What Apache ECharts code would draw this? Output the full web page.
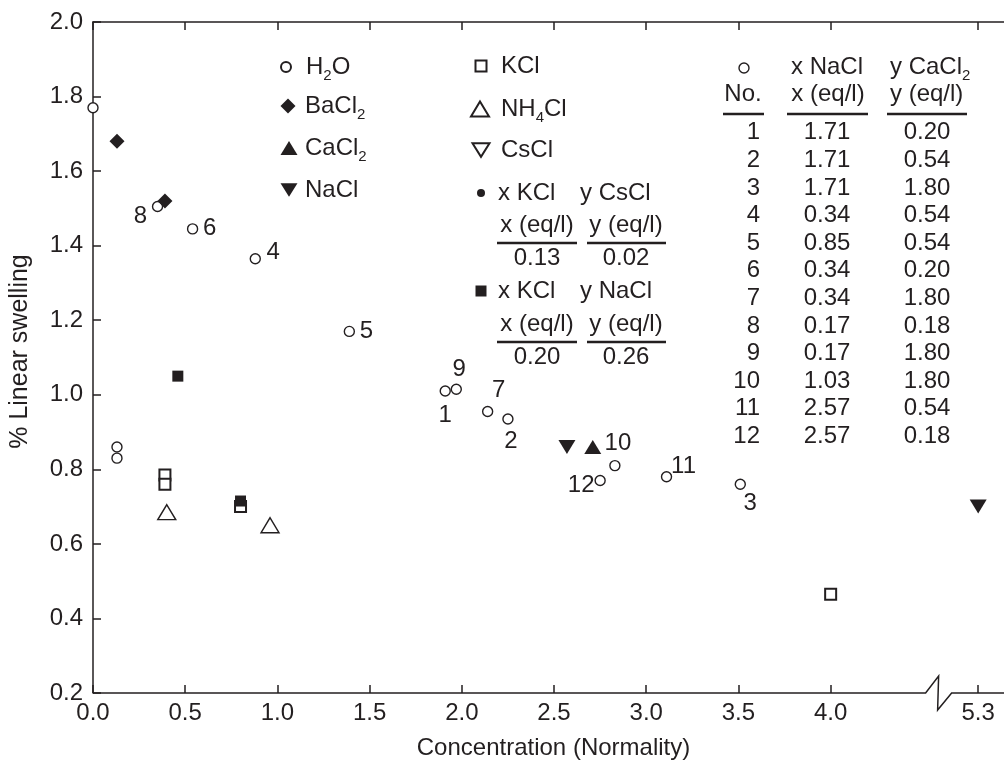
<!DOCTYPE html>
<html><head><meta charset="utf-8">
<script src="https://cdn.jsdelivr.net/npm/echarts@6/dist/echarts.min.js"></script>
<style>html,body{margin:0;padding:0;background:#fff}#c{width:1004px;height:766px}</style>
</head><body><div id="c"></div>
<script>
// ---------- data ----------
const xTickValues = [0, 0.5, 1.0, 1.5, 2.0, 2.5, 3.0, 3.5, 4.0, 5.3];
const xTickLabels = ['0.0','0.5','1.0','1.5','2.0','2.5','3.0','3.5','4.0','5.3'];

// pure water points (open circles, unlabeled)
const waterX = [0.00, 0.13, 0.13];
const waterY = [1.77, 0.86, 0.83];

// NaCl + CaCl2 mixtures (open circles, numbered)
const mixNo      = ['1','2','3','4','5','6','7','8','9','10','11','12'];
const mixNaCl    = ['1.71','1.71','1.71','0.34','0.85','0.34','0.34','0.17','0.17','1.03','2.57','2.57'];
const mixCaCl2   = ['0.20','0.54','1.80','0.54','0.54','0.20','1.80','0.18','1.80','1.80','0.54','0.18'];
const mixTotal   = [1.91, 2.25, 3.51, 0.88, 1.39, 0.54, 2.14, 0.35, 1.97, 2.83, 3.11, 2.75];
const mixSwelling= [1.01, 0.935, 0.76, 1.365, 1.17, 1.445, 0.955, 1.505, 1.015, 0.81, 0.78, 0.77];

const bacl2X = [0.13, 0.39];        const bacl2Y = [1.68, 1.52];
const cacl2X = [2.71];              const cacl2Y = [0.86];
const naclX  = [2.57, 5.3];         const naclY  = [0.86, 0.70];
const kclX   = [0.39, 0.39, 0.80, 4.00]; const kclY = [0.785, 0.76, 0.70, 0.465];
const nh4clX = [0.40, 0.96];        const nh4clY = [0.685, 0.65];
const csclX  = [];                  const csclY  = [];
const kclCsclX = [];                const kclCsclY = [];
const kclNaclX = [0.46, 0.80];      const kclNaclY = [1.05, 0.715];
const kclCsclTable = ['0.13', '0.02'];
const kclNaclTable = ['0.20', '0.26'];

// ---------- axis break (4.5 .. 5.0 removed) ----------
const BREAK_AT = 4.5, BREAK_SHIFT = 0.5;
const xd = x => x > BREAK_AT ? +(x - BREAK_SHIFT).toFixed(4) : x;

// ---------- styles ----------
const INK = '#231f20';
const FONT = '"Liberation Sans", Arial, Helvetica, sans-serif';
const FS = 24;
const labelOffsets = [[0,24],[3,22],[10,19],[18,-6],[17,0],[17,-1],[11,-21],[-17,10],[3,-20],[3,-22],[17,-10],[-19,5]];
const openStyle = {color:'#fff', borderColor: INK, borderWidth: 1.4, opacity: 1};
const fillStyle = {color: INK, borderWidth: 0, opacity: 1};
const downTri = 'path://M0 0 L20 0 L10 16 Z';

const pts = (xs, ys) => xs.map((x, i) => [xd(x), ys[i]]);

const h2oData = pts(waterX, waterY).concat(mixTotal.map((t, i) => ({
  value: [xd(t), mixSwelling[i]],
  name: mixNo[i],
  label: {show: true, position: 'inside', offset: labelOffsets[i], formatter: mixNo[i],
          fontSize: FS, fontFamily: FONT, color: INK, opacity: 1, textBorderWidth: 0}
})));

function sc(name, data, symbol, size, itemStyle, z) {
  return {type:'scatter', name, data, symbol, symbolSize:size, itemStyle,
          emphasis:{disabled:true}, silent:true, z: z || 2};
}

const series = [
  sc('H2O', h2oData, 'circle', 10, openStyle),
  sc('BaCl2', pts(bacl2X, bacl2Y), 'diamond', 15, fillStyle),
  sc('CaCl2', pts(cacl2X, cacl2Y), 'triangle', [17,14], fillStyle),
  sc('NaCl', pts(naclX, naclY), downTri, [17,14], fillStyle),
  sc('KCl', pts(kclX, kclY), 'rect', 11, {color:'#fff', borderColor:INK, borderWidth:2, opacity:1}),
  sc('NH4Cl', pts(nh4clX, nh4clY), 'triangle', [18,15], openStyle),
  sc('CsCl', pts(csclX, csclY), downTri, [17,14], openStyle),
  sc('x KCl y CsCl', pts(kclCsclX, kclCsclY), 'circle', 8, fillStyle),
  sc('x KCl y NaCl', pts(kclNaclX, kclNaclY), 'rect', 11, fillStyle, 3)
];

// ---------- legends (one per entry to follow the original layout) ----------
const richBase = {
  n: {fontSize: FS, fontFamily: FONT, color: INK, lineHeight: 34},
  s: {fontSize: 15, fontFamily: FONT, color: INK, lineHeight: 16, padding: [18,0,0,0]},
  a: {fontSize: FS, fontFamily: FONT, color: INK, lineHeight: 34, width: 82}
};
const legendText = {
  'H2O': '{n|H}{s|2}{n|O}', 'BaCl2': '{n|BaCl}{s|2}', 'CaCl2': '{n|CaCl}{s|2}', 'NaCl': '{n|NaCl}{s| }',
  'KCl': '{n|KCl}{s| }', 'NH4Cl': '{n|NH}{s|4}{n|Cl}', 'CsCl': '{n|CsCl}{s| }',
  'x KCl y CsCl': '{a|x KCl}{n|y CsCl}{s| }', 'x KCl y NaCl': '{a|x KCl}{n|y NaCl}{s| }'
};
function lg(name, cx, cy, tx, w, h) {
  return {
    data: [name], orient: 'horizontal', left: cx - w / 2, top: cy - 15.5, padding: 0,
    itemWidth: w, itemHeight: h, selectedMode: false,
    formatter: n => legendText[n],
    textStyle: {rich: richBase, padding: [0, 0, 0, Math.max(0, tx - (cx + w / 2) - 5)]}
  };
}
const legends = [
  lg('H2O', 285, 66, 305, 10, 10),
  lg('BaCl2', 288, 105, 305, 15, 15),
  lg('CaCl2', 289, 147, 305, 17, 14),
  lg('NaCl', 289, 189, 305, 17, 14),
  lg('KCl', 480, 65, 500, 11, 11),
  lg('NH4Cl', 479, 108, 500, 18, 15),
  lg('CsCl', 480, 149, 500, 17, 14),
  lg('x KCl y CsCl', 481, 192, 498, 8, 8),
  lg('x KCl y NaCl', 481, 290, 498, 11, 11)
];

// ---------- tables as text ----------
const G = [];
function txt(s, x, y, align, rich) {
  G.push({type:'text', x, y, silent:true, style:{text:s, fill:INK, font: FS + 'px ' + FONT,
    align: align, verticalAlign:'middle', textAlign: align, textVerticalAlign:'middle', rich: rich}});
}
function hline(x1, x2, y) {
  G.push({type:'line', silent:true, shape:{x1, y1:y, x2, y2:y}, style:{stroke:INK, lineWidth:2.5}});
}
const tRich = {n: richBase.n, s: richBase.s};
// mixture table (right)
G.push({type:'circle', silent:true, shape:{cx:744, cy:68, r:5}, style:{fill:'#fff', stroke:INK, lineWidth:1.4}});
txt('x NaCl', 827, 67, 'center');
txt('{n|y CaCl}{s|2}', 890, 67, 'left', tRich);
txt('No.', 743, 94, 'center');
txt('x (eq/l)', 828, 94, 'center');
txt('y (eq/l)', 890, 94, 'left');
hline(723, 764, 114); hline(787, 868, 114); hline(887, 967, 114);
mixNo.forEach((n, i) => {
  const y = 132.7 + i * 27.6;
  txt(n, 760, y, 'right');
  txt(mixNaCl[i], 827, y, 'center');
  txt(mixCaCl2[i], 927, y, 'center');
});
// small tables under the KCl mixtures legend
function subTable(vals, y0) {
  txt('x (eq/l)', 537, y0, 'center');
  txt('y (eq/l)', 626, y0, 'center');
  hline(497, 577, y0 + 18); hline(587, 666, y0 + 18);
  txt(vals[0], 537, y0 + 33.5, 'center');
  txt(vals[1], 626, y0 + 33.5, 'center');
}
subTable(kclCsclTable, 225);
subTable(kclNaclTable, 324);

// ---------- axes ----------
const tickDisp = xTickValues.map(xd);
const xLabelFor = v => { const i = tickDisp.findIndex(t => Math.abs(t - v) < 1e-6); return i >= 0 ? xTickLabels[i] : ''; };
const axisLineStyle = {color: INK, width: 1.5};

const option = {
  animation: false,
  backgroundColor: '#fff',
  grid: {left: 93, right: 0, top: 22, bottom: 73, containLabel: false, outerBoundsMode: 'none'},
  xAxis: [{
    type:'value', position:'bottom', min:0, max:4.94,
    axisLine:{show:false, onZero:false},
    axisTick:{show:true, inside:true, length:8, lineStyle:axisLineStyle, customValues: tickDisp},
    axisLabel:{show:true, customValues: tickDisp, formatter: xLabelFor, fontSize:FS, fontFamily:FONT, color:INK, margin:8},
    splitLine:{show:false},
    name:'Concentration (Normality)', nameLocation:'middle', nameGap:43,
    nameTextStyle:{fontSize:FS, fontFamily:FONT, color:INK, padding:[0,0,0,10]}
  }, {
    type:'value', position:'top', min:0, max:4.94,
    axisLine:{show:true, onZero:false, lineStyle:axisLineStyle},
    axisTick:{show:true, inside:true, length:8, lineStyle:axisLineStyle, customValues: tickDisp},
    axisLabel:{show:false}, splitLine:{show:false}
  }],
  yAxis: {
    type:'value', min:0.2, max:2.0, interval:0.2,
    axisLine:{show:true, onZero:false, lineStyle:axisLineStyle},
    axisTick:{show:true, inside:true, length:8, lineStyle:axisLineStyle},
    axisLabel:{formatter: v => v.toFixed(1), fontSize:FS, fontFamily:FONT, color:INK, margin:10},
    splitLine:{show:false},
    name:'% Linear swelling', nameLocation:'middle', nameGap:60,
    nameTextStyle:{fontSize:25, fontFamily:FONT, color:INK, padding:[0,0,0,12]}
  },
  legend: legends,
  series: series,
  graphic: G
};

const chart = echarts.init(document.getElementById('c'), null, {renderer:'canvas'});
chart.setOption(option);

// bottom axis line with break zigzag
const p0 = chart.convertToPixel({xAxisIndex:0, yAxisIndex:0}, [0, 0.2]);
const pE = chart.convertToPixel({xAxisIndex:0, yAxisIndex:0}, [4.94, 0.2]);
const pB = chart.convertToPixel({xAxisIndex:0, yAxisIndex:0}, [4.515, 0.2]);
G.push({type:'polyline', silent:true, z:10, shape:{points:[
  [p0[0], p0[1]], [pB[0], pB[1]], [pB[0] + 13, pB[1] - 17], [pB[0] + 12, pB[1] + 17],
  [pB[0] + 26, pB[1]], [pE[0], pE[1]]
]}, style:{stroke:INK, lineWidth:1.5, fill:null}});
chart.setOption({graphic: G});
</script>
</body></html>
